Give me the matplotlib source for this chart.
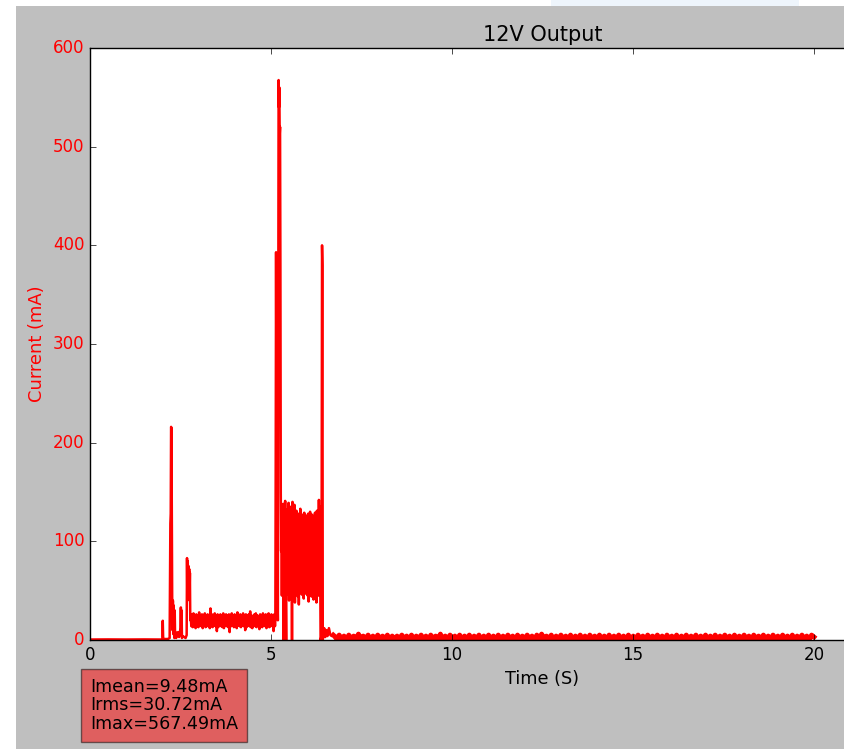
import numpy as np
import matplotlib
matplotlib.use('Agg')
import matplotlib.pyplot as plt
from matplotlib.patches import Rectangle

# ----- Data (time in s, current in mA) ----- #

# idle before power-up
t_idle = [0.0, 0.5, 1.0, 1.5, 1.98]
i_idle = [0.5, 0.6, 0.5, 0.6, 0.5]

# power-up spikes
t_start = [2.00, 2.01, 2.02, 2.03, 2.05, 2.10, 2.15, 2.20, 2.21, 2.22, 2.23, 2.24,
           2.25, 2.26, 2.27, 2.28, 2.29, 2.30, 2.31, 2.33, 2.34, 2.35, 2.36, 2.38,
           2.40, 2.43, 2.46, 2.50, 2.51, 2.52, 2.53, 2.54, 2.56, 2.60, 2.64, 2.67,
           2.68, 2.69, 2.70, 2.71, 2.72, 2.73, 2.74, 2.75, 2.76, 2.77]
i_start = [1, 19.5, 3, 1, 1, 1, 1, 2, 60, 118, 128, 216,
           215, 120, 44, 10, 40, 6, 35, 2, 30, 5, 8, 2,
           6, 8, 3, 12, 33, 5, 30, 2, 4, 3, 2, 5,
           83, 40, 80, 60, 75, 50, 72, 45, 68, 20]

# first plateau (~20 mA) samples
t_band1 = (2.78, 5.11)
i_band1 = [25, 14, 26, 13, 27, 15, 24, 12, 26, 14, 25, 13, 28, 15, 24, 14, 26, 12, 25, 15,
           27, 13, 24, 14, 26, 15, 25, 12, 32, 14, 26, 13, 24, 15, 27, 14, 25, 9, 26, 13,
           24, 15, 26, 14, 25, 13, 27, 12, 24, 15, 26, 14, 25, 13, 26, 8, 24, 14, 27, 15,
           25, 13, 26, 14, 24, 12, 28, 15, 25, 14, 26, 13, 24, 15, 27, 14, 25, 10, 26, 13,
           24, 15, 26, 14, 29, 13, 25, 12, 24, 15, 26, 14, 27, 13, 25, 15, 24, 11, 26, 14,
           25, 13, 27, 15, 24, 14, 26, 12, 25, 15, 27, 13, 24, 14, 26, 15, 25, 9, 26, 14]

# main inrush peak
t_peak = [5.12, 5.13, 5.14, 5.15, 5.16, 5.17, 5.19, 5.20, 5.21, 5.22, 5.23, 5.24,
          5.25, 5.26, 5.27, 5.28, 5.29, 5.30]
i_peak = [20, 180, 393, 250, 392, 60, 20, 300, 567.5, 540, 560, 512,
          520, 380, 150, 90, 130, 45]

# second plateau (~50-130 mA) samples
t_band2 = (5.31, 6.35)
i_band2 = [130, 48, 138, 0, 125, 44, 141, 50, 0, 132, 46, 128, 52, 139, 40, 127, 47, 135, 55, 122,
           0, 140, 45, 126, 50, 137, 38, 124, 48, 131, 53, 120, 44, 128, 36, 125, 49, 133, 51, 122,
           46, 127, 54, 121, 42, 129, 50, 124, 47, 126, 55, 119, 45, 128, 39, 123, 52, 130, 48, 121,
           44, 127, 56, 125, 41, 122, 50, 129, 47, 124, 38, 131, 52, 127, 45, 142, 48, 135]

# switch-off spike
t_end = [6.36, 6.37, 6.38, 6.39, 6.40, 6.41, 6.42, 6.43, 6.45, 6.47, 6.50, 6.53,
         6.56, 6.60, 6.64, 6.68, 6.72]
i_end = [60, 0, 2, 0, 150, 400, 380, 0, 5, 12, 3, 10,
         4, 12, 5, 4, 5]

# standby tail
t_tail = (6.75, 20.0)
i_tail = [4, 1, 5, 1, 4, 0, 5, 1, 4, 1, 6, 1, 4, 1, 5, 0, 4, 1, 5, 1,
          4, 1, 5, 0, 4, 1, 4, 1, 5, 1, 4, 0, 5, 1, 4, 1, 5, 1, 4, 0,
          5, 1, 4, 1, 6, 0, 4, 1, 5, 1, 4, 1, 5, 0, 4, 1, 5, 1, 4, 1,
          5, 0, 4, 1, 5, 1, 4, 0, 5, 1, 4, 1, 5, 1, 4, 0, 5, 1, 4, 1,
          5, 1, 4, 0, 5, 1, 6, 1, 4, 1, 5, 0, 4, 1, 5, 1, 4, 1, 5, 0,
          4, 1, 5, 1, 4, 0, 5, 1, 4, 1, 5, 1, 4, 0, 5, 1, 4, 1, 5, 1,
          4, 0, 5, 1, 4, 1, 5, 1, 4, 0, 5, 1, 4, 1, 5, 1, 4, 0, 5, 1,
          4, 1, 5, 0, 4, 1, 5, 1, 4, 1, 5, 0, 4, 1, 5, 1, 4, 0, 5, 1,
          4, 1, 5, 1, 4, 0, 5, 1, 4, 1, 5, 1, 4, 0, 5, 1, 4, 1, 5, 1,
          4, 0, 5, 1, 4, 1, 5, 1, 4, 0, 5, 1, 4, 1, 5, 1, 4, 0, 5, 3]

stats_text = 'Imean=9.48mA\nIrms=30.72mA\nImax=567.49mA'

# ----- Assemble the trace (band samples spread evenly across their span) ----- #
t = np.concatenate([t_idle, t_start,
                    np.linspace(t_band1[0], t_band1[1], len(i_band1)),
                    t_peak,
                    np.linspace(t_band2[0], t_band2[1], len(i_band2)),
                    t_end])
current = np.concatenate([i_idle, i_start, i_band1, i_peak, i_band2, i_end])
t_standby = np.concatenate([[t_end[-1]], np.linspace(t_tail[0], t_tail[1], len(i_tail))])
i_standby = np.concatenate([[i_end[-1]], i_tail])

plt.style.use('classic')
W, H = 845, 749
fig = plt.figure(figsize=(8.45, 7.49), dpi=100)
fig.patch.set_facecolor('#bfbfbf')
# screenshot look: white strip at the left and top edges
fig.add_artist(Rectangle((0, 0), 16 / W, 1, transform=fig.transFigure,
                         facecolor='white', edgecolor='none', zorder=-10))
fig.add_artist(Rectangle((0, 1 - 6 / H), 1, 6 / H, transform=fig.transFigure,
                         facecolor='white', edgecolor='none', zorder=-10))
fig.add_artist(Rectangle((551 / W, 1 - 6 / H), 248 / W, 6 / H, transform=fig.transFigure,
                         facecolor='#eef5fc', edgecolor='none', zorder=-9))

# axes run past the right edge of the picture (xlim 0..25)
ax = fig.add_axes([90 / W, 1 - 640 / H, 905 / W, 592 / H])
ax.plot(t, current, color='red', linewidth=1.8)
# dense standby noise renders as a solid band
ax.plot(t_standby, i_standby, color='red', linewidth=3.5)
ax.set_xlim(0, 25)
ax.set_ylim(0, 600)
ax.set_xticks([0, 5, 10, 15, 20])
ax.set_yticks(range(0, 601, 100))
ax.set_title('12V Output', fontsize=15)
ax.set_xlabel('Time (S)', fontsize=12.7)
ax.set_ylabel('Current (mA)', fontsize=12.9, color='red')
ax.tick_params(axis='y', labelcolor='red', labelsize=12)
ax.tick_params(axis='x', labelsize=12)

fig.text(90 / W, 1 - 733 / H, stats_text, fontsize=12.6, ha='left', va='bottom',
         linespacing=1.04,
         bbox=dict(boxstyle='square,pad=0.5', facecolor='red', alpha=0.5))

fig.savefig('out.png', dpi=100, facecolor=fig.get_facecolor())
